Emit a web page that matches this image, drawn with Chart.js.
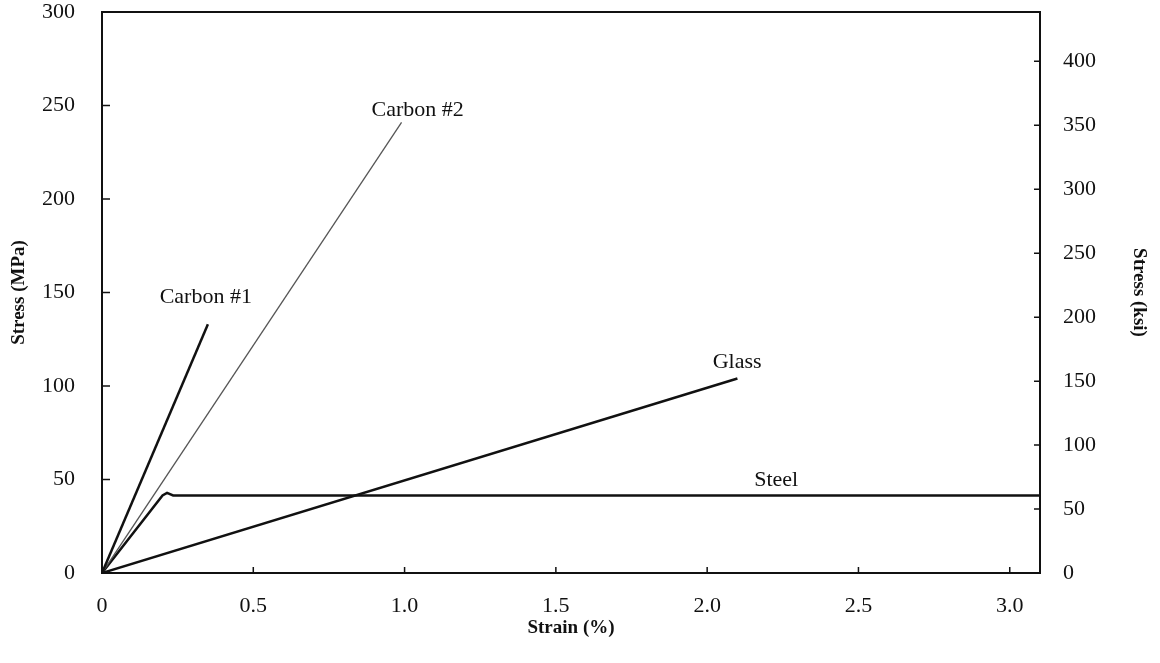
<!DOCTYPE html>
<html>
<head>
<meta charset="utf-8">
<script src="https://cdn.jsdelivr.net/npm/chart.js@4"></script>
<style>
  html, body { margin: 0; padding: 0; background: #fff; }
  #wrap { width: 1160px; height: 663px; }
</style>
</head>
<body>
<div id="wrap"><canvas id="stressChart" width="1160" height="663"></canvas></div>
<script>
// strain (%) / stress (MPa)
const carbon1Strain = [0, 0.35];
const carbon1Stress = [0, 133];
const carbon2Strain = [0, 0.99];
const carbon2Stress = [0, 241];
const glassStrain = [0, 2.1];
const glassStress = [0, 104];
const steelStrain = [0, 0.2, 0.215, 0.235, 3.1];
const steelStress = [0, 41.5, 42.8, 41.5, 41.5];

const xTicks = [0, 0.5, 1.0, 1.5, 2.0, 2.5, 3.0];
const xTickLabels = ['0', '0.5', '1.0', '1.5', '2.0', '2.5', '3.0'];
const mpaTicks = [0, 50, 100, 150, 200, 250, 300];
const ksiTicks = [0, 50, 100, 150, 200, 250, 300, 350, 400];

// line labels: [text, strain, stress]
const lineLabels = [
  ['Carbon #1', 0.343, 147.6],
  ['Carbon #2', 1.043, 247.6],
  ['Glass', 2.099, 112.8],
  ['Steel', 2.228, 49.7]
];

const MPA_PER_KSI = 0.684; // as the right axis is spaced in the figure
const serif = "'Liberation Serif', 'Times New Roman', serif";

function pts(xs, ys) {
  return xs.map((x, i) => ({ x: x, y: ys[i] }));
}

// inward tick marks, frame and line labels
const decorations = {
  id: 'decorations',
  afterDraw(chart) {
    const c = chart.ctx;
    const a = chart.chartArea;
    const sx = chart.scales.x, sy = chart.scales.y, sk = chart.scales.yKsi;
    c.save();
    c.strokeStyle = '#111';
    c.lineWidth = 2;
    c.strokeRect(a.left, a.top, a.right - a.left, a.bottom - a.top);
    c.lineWidth = 1.5;
    c.beginPath();
    xTicks.forEach(v => {
      const px = sx.getPixelForValue(v);
      c.moveTo(px, a.bottom); c.lineTo(px, a.bottom - 6);
    });
    mpaTicks.forEach(v => {
      const py = sy.getPixelForValue(v);
      c.moveTo(a.left, py); c.lineTo(a.left + 8, py);
    });
    ksiTicks.forEach(v => {
      const py = sk.getPixelForValue(v);
      c.moveTo(a.right, py); c.lineTo(a.right - 6, py);
    });
    c.stroke();

    c.fillStyle = '#111';
    c.font = '22px ' + serif;
    c.textAlign = 'center';
    c.textBaseline = 'middle';
    lineLabels.forEach(l => {
      c.fillText(l[0], sx.getPixelForValue(l[1]), sy.getPixelForValue(l[2]));
    });
    c.restore();
  }
};

function fixWidth(w) {
  return s => { s.width = w; s.paddingTop = 0; s.paddingBottom = 0; };
}

const ctx = document.getElementById('stressChart').getContext('2d');
new Chart(ctx, {
  type: 'line',
  data: {
    datasets: [
      { label: 'Carbon #1', data: pts(carbon1Strain, carbon1Stress), borderColor: '#111', borderWidth: 2.5 },
      { label: 'Carbon #2', data: pts(carbon2Strain, carbon2Stress), borderColor: '#555', borderWidth: 1.3 },
      { label: 'Glass', data: pts(glassStrain, glassStress), borderColor: '#111', borderWidth: 2.5 },
      { label: 'Steel', data: pts(steelStrain, steelStress), borderColor: '#111', borderWidth: 2.5 }
    ]
  },
  options: {
    responsive: false,
    animation: false,
    layout: { padding: { top: 12, right: 0, left: 0, bottom: 0 } },
    elements: { point: { radius: 0 }, line: { tension: 0 } },
    plugins: { legend: { display: false }, tooltip: { enabled: false } },
    scales: {
      x: {
        type: 'linear',
        min: 0,
        max: 3.1,
        afterBuildTicks: s => { s.ticks = xTicks.map(v => ({ value: v })); },
        afterFit: s => { s.height = 90; s.paddingLeft = 0; s.paddingRight = 0; },
        grid: { display: false, drawTicks: false },
        border: { display: false },
        ticks: {
          color: '#111',
          font: { family: serif, size: 22 },
          padding: 20,
          maxRotation: 0,
          callback: (v) => xTickLabels[xTicks.indexOf(v)]
        },
        title: {
          display: true,
          text: 'Strain (%)',
          color: '#111',
          font: { family: serif, size: 19, weight: 'bold' },
          padding: { top: 0, bottom: 24 }
        }
      },
      y: {
        position: 'left',
        min: 0,
        max: 300,
        afterBuildTicks: s => { s.ticks = mpaTicks.map(v => ({ value: v })); },
        afterFit: fixWidth(102),
        grid: { display: false, drawTicks: false },
        border: { display: false },
        ticks: { color: '#111', font: { family: serif, size: 22 }, padding: 27 },
        title: {
          display: true,
          text: 'Stress (MPa)',
          color: '#111',
          font: { family: serif, size: 19, weight: 'bold' },
          padding: { top: 8 }
        }
      },
      yKsi: {
        position: 'right',
        min: 0,
        max: 300 / MPA_PER_KSI,
        afterBuildTicks: s => { s.ticks = ksiTicks.map(v => ({ value: v })); },
        afterFit: fixWidth(120),
        grid: { display: false, drawTicks: false },
        border: { display: false },
        ticks: { color: '#111', font: { family: serif, size: 22 }, padding: 23 },
        title: {
          display: true,
          text: 'Stress (ksi)',
          color: '#111',
          font: { family: serif, size: 19, weight: 'bold' },
          padding: { top: 10 }
        }
      }
    }
  },
  plugins: [decorations]
});
</script>
</body>
</html>
